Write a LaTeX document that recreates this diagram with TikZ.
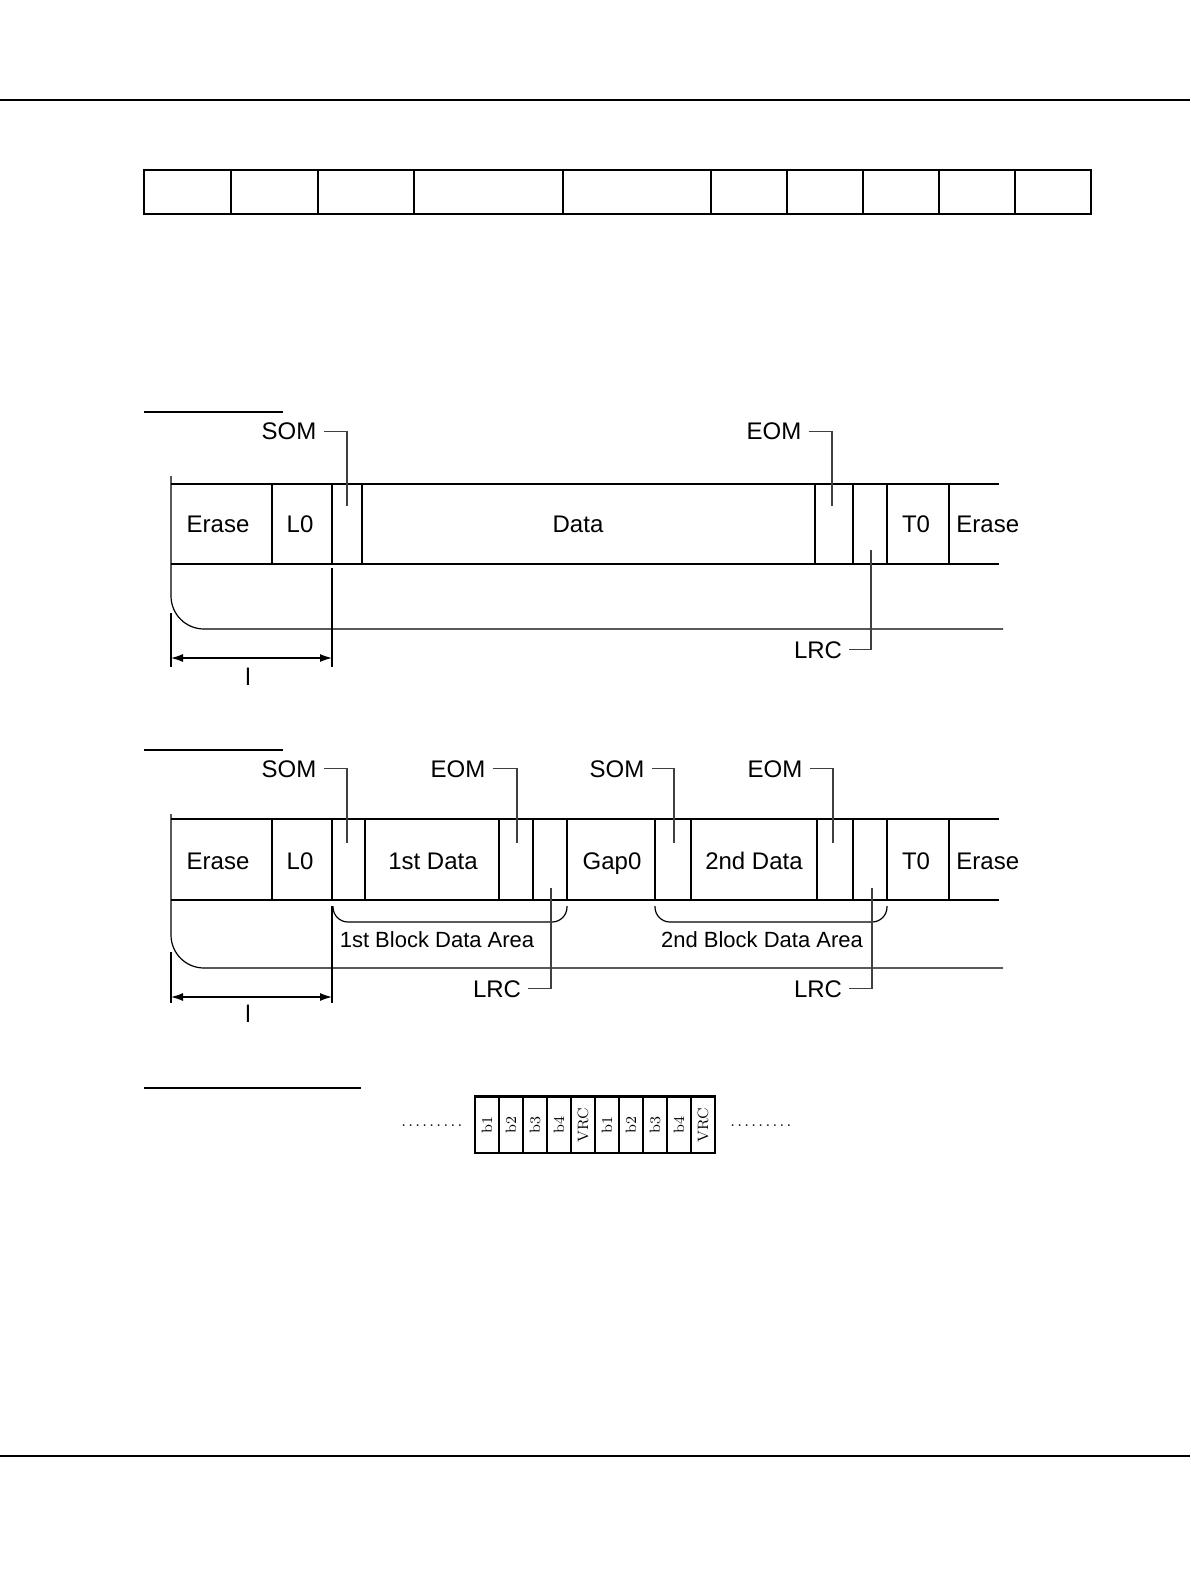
\documentclass[tikz,border=0pt]{standalone}
\usepackage{fontspec}
\setsansfont{Liberation Sans}
\usetikzlibrary{arrows.meta}

\newcommand{\spacerdots}{.\kern1.15pt.\kern1.15pt.\kern1.15pt.\kern1.15pt.\kern1.15pt.\kern1.15pt.\kern1.15pt.\kern1.15pt.}

\tikzset{
  pagerule/.style={line width=1pt},
  headrule/.style={line width=0.6pt},
  tablecell/.style={line width=0.9pt},
  band/.style={line width=0.6pt},
  leader/.style={line width=0.55pt, black!75},
  dim/.style={line width=0.6pt, {Latex[length=6pt,width=4pt]}-{Latex[length=6pt,width=4pt]}},
  txt/.style={font=\sffamily\fontsize{12}{14}\selectfont, inner sep=0pt, anchor=base},
  areatxt/.style={font=\sffamily\fontsize{11}{13}\selectfont, inner sep=0pt, anchor=base},
  tag/.style={font=\sffamily\fontsize{12}{14}\selectfont, inner sep=3.5pt, anchor=base},
  bitcell/.style={draw, line width=0.6pt, rotate=90, minimum width=28pt, minimum height=12pt,
    inner sep=0pt, font=\fontsize{7.5}{9}\selectfont},
  dotrow/.style={inner sep=0pt, anchor=west, font=\fontsize{8}{9}\selectfont}
}

\begin{document}
\begin{tikzpicture}[x=0.5pt, y=-0.5pt]
    \useasboundingbox (0,0) rectangle (1190,1588);

    % Page rules
    \draw[pagerule] (0,100) -- (1190,100);
    \draw[pagerule] (0,1456) -- (1190,1456);

    % Top table
    \foreach \a/\b in {144/231, 231/318, 318/414, 414/563, 563/711, 711/787, 787/863, 863/939, 939/1015, 1015/1091}
        \draw[tablecell] (\a,170) rectangle (\b,214);

    % ---------- Single block ----------
    \draw[headrule] (144,412) -- (283,412);

    % Draw band
    \draw[band] (171,484) -- (999,484);
    \draw[band] (171,564) -- (999,564);
    \draw[band, rounded corners=16.5pt] (171,476) -- (171,629) -- (1003,629);
    \foreach \x in {272,332,362,815,853,887,949}
        \draw[band] (\x,484) -- (\x,564);
    \draw[band] (332,568) -- (332,667);
    \draw[band] (171,613) -- (171,667);

    % Field names
    \node[txt] (erase1) at (218,532) {Erase};
    \node[txt] (lead1) at (300,532) {L0};
    \node[txt] (data1) at (578,532) {Data};
    \node[txt] (trail1) at (916,532) {T0};
    \node[txt, anchor=base west] (erase1r) at (956,532) {Erase};

    % Leaders
    \coordinate (som1tip) at (347,506);
    \coordinate (eom1tip) at (832,506);
    \coordinate (lrc1tip) at (871,550);
    \node[tag] (som1) at (289,440) {SOM};
    \node[tag] (eom1) at (774,440) {EOM};
    \node[tag] (lrc1) at (818,658) {LRC};
    \draw[leader] (som1.east) -| (som1tip);
    \draw[leader] (eom1.east) -| (eom1tip);
    \draw[leader] (lrc1.east) -| (lrc1tip);

    % Length
    \coordinate (dimA1) at (171,658);
    \coordinate (dimB1) at (332,658);
    \draw[dim] (dimA1) -- (dimB1);
    \node[txt] (len1) at (248,685) {l};

    % ---------- Two blocks ----------
    \draw[headrule] (144,750) -- (283,750);

    % Draw band
    \draw[band] (171,819) -- (999,819);
    \draw[band] (171,900) -- (999,900);
    \draw[band, rounded corners=16.5pt] (171,814) -- (171,968) -- (1003,968);
    \foreach \x in {272,332,365,499,533,567,655,691,817,853,887,949}
        \draw[band] (\x,819) -- (\x,900);
    \draw[band] (332,906) -- (332,1003);
    \draw[band] (171,952) -- (171,1003);

    % Field names
    \node[txt] (erase2) at (218,869) {Erase};
    \node[txt] (lead2) at (300,869) {L0};
    \node[txt] (data2a) at (433,869) {1st Data};
    \node[txt] (gap2) at (612,869) {Gap0};
    \node[txt] (data2b) at (754,869) {2nd Data};
    \node[txt] (trail2) at (916,869) {T0};
    \node[txt, anchor=base west] (erase2r) at (956,869) {Erase};

    % Block areas
    \draw[band, rounded corners=7.5pt] (333,906) -- (333,922) -- (567,922) -- (567,906);
    \draw[band, rounded corners=7.5pt] (655,906) -- (655,922) -- (887,922) -- (887,906);
    \node[areatxt] (area1) at (437,947) {1st Block Data Area};
    \node[areatxt] (area2) at (762,947) {2nd Block Data Area};

    % Leaders
    \coordinate (som2tip) at (347,843);
    \coordinate (eom2tip) at (517,843);
    \coordinate (som3tip) at (674,843);
    \coordinate (eom3tip) at (833,843);
    \coordinate (lrc2tip) at (551,888);
    \coordinate (lrc3tip) at (872,888);
    \node[tag] (som2) at (289,777) {SOM};
    \node[tag] (eom2) at (458,777) {EOM};
    \node[tag] (som3) at (617,777) {SOM};
    \node[tag] (eom3) at (775,777) {EOM};
    \node[tag] (lrc2) at (497,997) {LRC};
    \node[tag] (lrc3) at (818,997) {LRC};
    \draw[leader] (som2.east) -| (som2tip);
    \draw[leader] (eom2.east) -| (eom2tip);
    \draw[leader] (som3.east) -| (som3tip);
    \draw[leader] (eom3.east) -| (eom3tip);
    \draw[leader] (lrc2.east) -| (lrc2tip);
    \draw[leader] (lrc3.east) -| (lrc3tip);

    % Length
    \coordinate (dimA2) at (171,997);
    \coordinate (dimB2) at (332,997);
    \draw[dim] (dimA2) -- (dimB2);
    \node[txt] (len2) at (248,1022) {l};

    % ---------- Bit frames ----------
    \draw[headrule] (144,1088) -- (361,1088);
    \node[dotrow] (dotsL) at (401,1126) {\spacerdots};
    \foreach \t [count=\i] in {b1,b2,b3,b4,VRC,b1,b2,b3,b4,VRC}
        \node[bitcell] (bit\i) at ({463+24*\i},1125) {\t};
    \draw[line width=1pt] (bit1.north east) -- (bit10.south east);
    \node[dotrow] (dotsR) at (730,1126) {\spacerdots};
\end{tikzpicture}
\end{document}
